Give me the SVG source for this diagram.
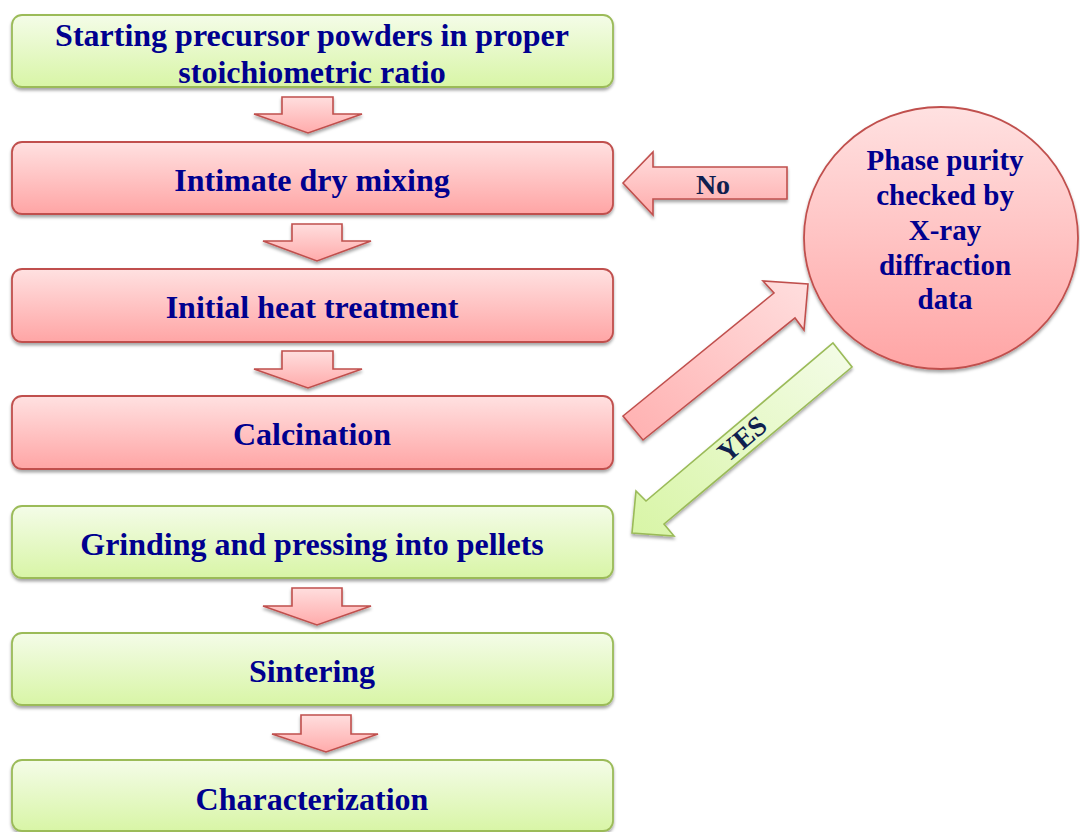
<svg xmlns="http://www.w3.org/2000/svg" width="1080" height="832" viewBox="0 0 1080 832">
<defs>
<linearGradient id="gRed" x1="0" y1="0" x2="0" y2="1">
<stop offset="0" stop-color="#ffe1e1"/>
<stop offset="1" stop-color="#ffa5a5"/>
</linearGradient>
<linearGradient id="gGreen" x1="0" y1="0" x2="0" y2="1">
<stop offset="0" stop-color="#f4fce8"/>
<stop offset="1" stop-color="#d8f5a6"/>
</linearGradient>
<linearGradient id="gArrowR" x1="0" y1="0" x2="0" y2="1">
<stop offset="0" stop-color="#ffdede"/>
<stop offset="1" stop-color="#ffabab"/>
</linearGradient>
<linearGradient id="gDiagR" x1="1" y1="0" x2="0" y2="1">
<stop offset="0" stop-color="#ffdede"/>
<stop offset="1" stop-color="#ffb0b0"/>
</linearGradient>
<linearGradient id="gDiagG" x1="1" y1="0" x2="0" y2="1">
<stop offset="0" stop-color="#f4fce8"/>
<stop offset="1" stop-color="#d8f5a6"/>
</linearGradient>
<filter id="sh" x="-10%" y="-10%" width="120%" height="130%">
<feDropShadow dx="0" dy="2.5" stdDeviation="1.8" flood-color="#000" flood-opacity="0.35"/>
</filter>
</defs>
<style>
.red{fill:url(#gRed);stroke:#c0504d;stroke-width:1.8}
.green{fill:url(#gGreen);stroke:#9bbb59;stroke-width:1.8}
.arr{fill:url(#gArrowR);stroke:#c0504d;stroke-width:1.6;stroke-linejoin:miter}
.t{font-family:"Liberation Serif","Times New Roman",serif;font-weight:bold;font-size:32px;fill:#00008f;text-anchor:middle}
.c{font-family:"Liberation Serif","Times New Roman",serif;font-weight:bold;font-size:29px;fill:#00008f;text-anchor:middle}
.l{font-family:"Liberation Serif","Times New Roman",serif;font-weight:bold;font-size:28px;fill:#0f1f4f;text-anchor:middle}
</style>
<rect width="1080" height="832" fill="#ffffff"/>

<g id="connectors">
<polygon class="arr" filter="url(#sh)" points="282,97 333,97 333,114 362,114 308,133 254,114 282,114"/>
<polygon class="arr" filter="url(#sh)" points="292,224 342,224 342,241 371,241 317,261 263,241 292,241"/>
<polygon class="arr" filter="url(#sh)" points="282,351 333,351 333,369 362,369 308,388 254,369 282,369"/>
<polygon class="arr" filter="url(#sh)" points="292,588 342,588 342,606 371,606 317,625 263,606 292,606"/>
<polygon class="arr" filter="url(#sh)" points="301,715 351,715 351,734 378,734 326,752 272,734 301,734"/>
<g id="no-arrow">
<polygon class="arr" filter="url(#sh)" points="623,183 653,152 653,167 787,167 787,199 653,199 653,215"/>
<text class="l" x="713" y="194">No</text>
</g>
<g id="to-xrd-arrow">
<polygon fill="url(#gDiagR)" stroke="#c0504d" stroke-width="1.6" filter="url(#sh)" points="623,416 774,293 763,281 808,284 804,330 795,318 643,440"/>
</g>
<g id="yes-arrow">
<polygon fill="url(#gDiagG)" stroke="#9bbb59" stroke-width="1.6" filter="url(#sh)" points="833,343 852,367 664,524 674,536 632,533 636,491 646,501"/>
<text class="l" x="0" y="0" font-size="26" transform="translate(748,446) rotate(-40)">YES</text>
</g>
</g>

<g id="node-start">
<rect class="green" filter="url(#sh)" x="12" y="15" width="601" height="72" rx="10"/>
<text class="t" x="312" y="46">Starting precursor powders in proper</text>
<text class="t" x="312" y="83">stoichiometric ratio</text>
</g>
<g id="node-mixing">
<rect class="red" filter="url(#sh)" x="12" y="142" width="601" height="72" rx="10"/>
<text class="t" x="312" y="191">Intimate dry mixing</text>
</g>
<g id="node-heat">
<rect class="red" filter="url(#sh)" x="12" y="269" width="601" height="73" rx="10"/>
<text class="t" x="312" y="318">Initial heat treatment</text>
</g>
<g id="node-calcination">
<rect class="red" filter="url(#sh)" x="12" y="396" width="601" height="73" rx="10"/>
<text class="t" x="312" y="445">Calcination</text>
</g>
<g id="node-grinding">
<rect class="green" filter="url(#sh)" x="12" y="506" width="601" height="72" rx="10"/>
<text class="t" x="312" y="555">Grinding and pressing into pellets</text>
</g>
<g id="node-sintering">
<rect class="green" filter="url(#sh)" x="12" y="633" width="601" height="72" rx="10"/>
<text class="t" x="312" y="682">Sintering</text>
</g>
<g id="node-characterization">
<rect class="green" filter="url(#sh)" x="12" y="760" width="601" height="71" rx="10"/>
<text class="t" x="312" y="810">Characterization</text>
</g>
<g id="node-xrd">
<ellipse class="red" filter="url(#sh)" cx="941" cy="238" rx="137" ry="131"/>
<text class="c" x="945" y="170">Phase purity</text>
<text class="c" x="945" y="205">checked by</text>
<text class="c" x="945" y="240">X-ray</text>
<text class="c" x="945" y="275">diffraction</text>
<text class="c" x="945" y="309">data</text>
</g>
</svg>
